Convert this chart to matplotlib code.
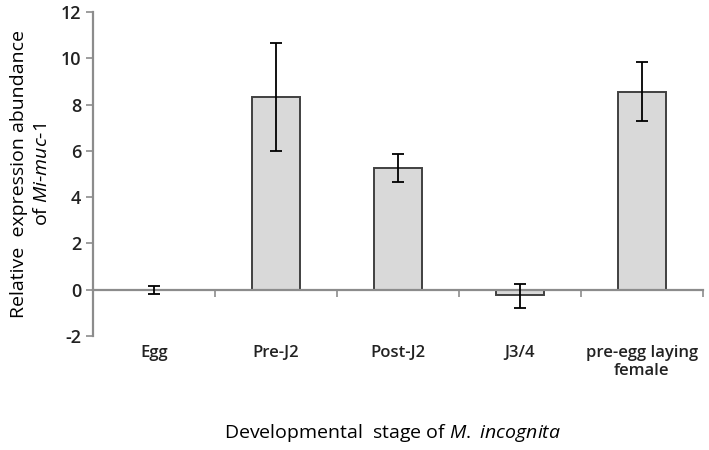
import numpy as np
import matplotlib
matplotlib.use("Agg")
import matplotlib.pyplot as plt

plt.rcParams['font.family'] = ['Open Sans', 'DejaVu Sans']
plt.rcParams['mathtext.fontset'] = 'custom'
plt.rcParams['mathtext.it'] = 'Open Sans:italic'
plt.rcParams['mathtext.rm'] = 'Open Sans'

stages = ["Egg", "Pre-J2", "Post-J2", "J3/4", "pre-egg laying\nfemale"]
values = [0.0, 8.33, 5.25, -0.23, 8.56]
err_low = [0.2, 2.34, 0.60, 0.55, 1.27]
err_high = [0.15, 2.33, 0.62, 0.49, 1.29]
yticks = [-2, 0, 2, 4, 6, 8, 10, 12]

fig = plt.figure(figsize=(7.09, 4.5), dpi=100)
ax = fig.add_axes([0.131, 0.2533, 0.8605, 0.7197])

x = np.arange(len(stages))
ax.bar(x, values, width=0.39, color="#d9d9d9", edgecolor="#404040", linewidth=1.4, zorder=2)
ax.errorbar(x, values, yerr=[err_low, err_high], fmt="none", ecolor="black",
            elinewidth=1.3, capsize=4, capthick=1.3, zorder=4)

ax.set_xlim(-0.5, 4.5)
ax.set_ylim(-2, 12)
ax.set_yticks(yticks)
ax.set_yticklabels([str(v) for v in yticks], fontsize=13, fontweight='semibold', color="#222222")

ax.spines['top'].set_visible(False)
ax.spines['right'].set_visible(False)
ax.spines['bottom'].set_position(('data', 0))
for s in ['left', 'bottom']:
    ax.spines[s].set_color("#8c8c8c")
    ax.spines[s].set_linewidth(1.6)
ax.spines['bottom'].set_zorder(3)

ax.set_xticks(x)
ax.set_xticklabels(stages, fontsize=12, fontweight='semibold', color="#222222", linespacing=1.1)
ax.set_xticks(np.arange(-0.5, 5, 1.0)[1:], minor=True)
ax.tick_params(axis='x', which='major', length=0, pad=40)
ax.tick_params(axis='x', which='minor', length=5, color="#8c8c8c", width=1.2, direction='out')
ax.tick_params(axis='y', length=5, color="#8c8c8c", width=1.2, direction='out')

ax.set_ylabel("Relative  expression abundance\nof $\\mathit{Mi}$-$\\mathit{muc}$-$\\mathit{1}$",
              fontsize=14, linespacing=1.35, labelpad=7)
fig.text(0.553, 0.038, "Developmental  stage of $\\mathit{M.\\ incognita}$",
         ha="center", va="center", fontsize=14)

fig.savefig("out.png", dpi=100)
